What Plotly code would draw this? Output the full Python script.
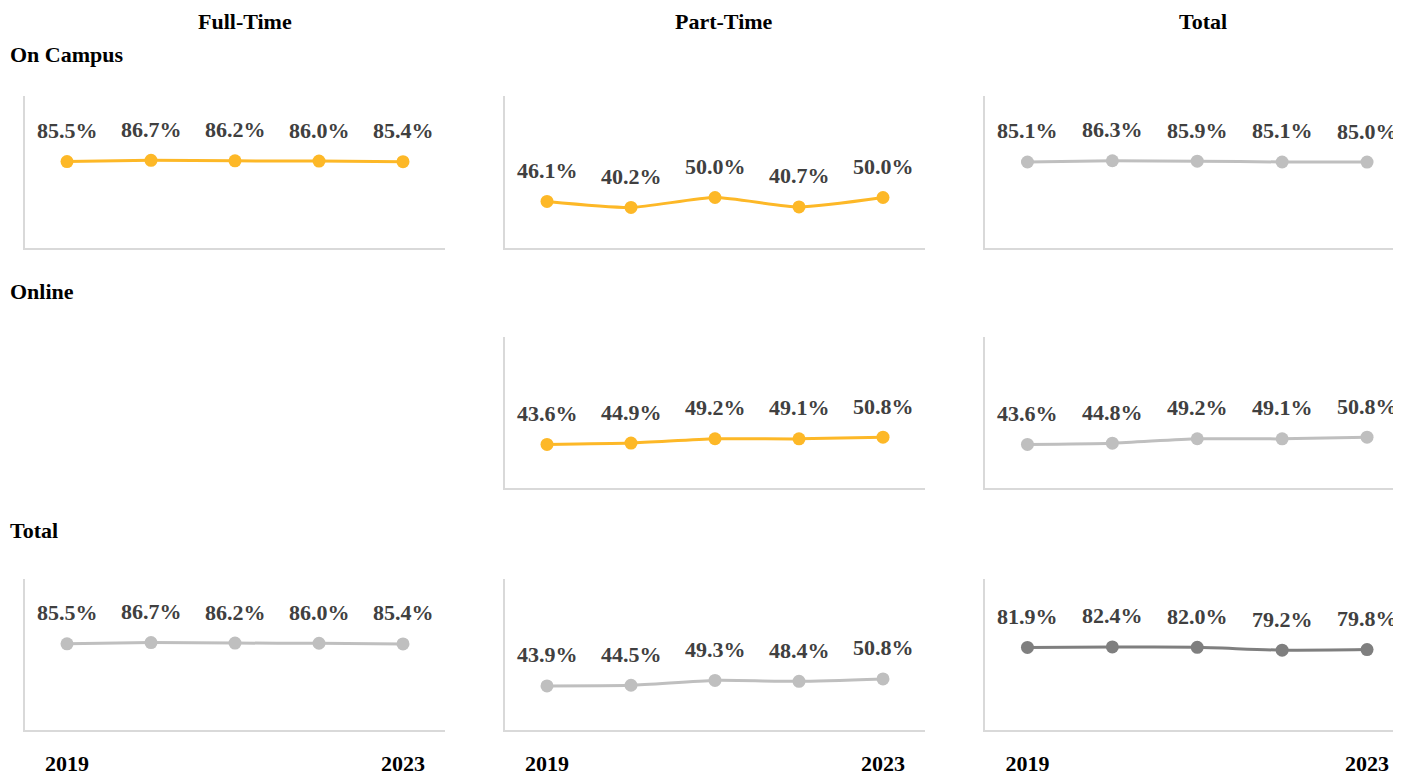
import plotly.graph_objects as go

years = ["2019", "2020", "2021", "2022", "2023"]
col_titles = ["Full-Time", "Part-Time", "Total"]
row_titles = ["On Campus", "Online", "Total"]

on_campus_full = [85.5, 86.7, 86.2, 86.0, 85.4]
on_campus_part = [46.1, 40.2, 50.0, 40.7, 50.0]
on_campus_total = [85.1, 86.3, 85.9, 85.1, 85.0]
online_full = []
online_part = [43.6, 44.9, 49.2, 49.1, 50.8]
online_total = [43.6, 44.8, 49.2, 49.1, 50.8]
total_full = [85.5, 86.7, 86.2, 86.0, 85.4]
total_part = [43.9, 44.5, 49.3, 48.4, 50.8]
total_total = [81.9, 82.4, 82.0, 79.2, 79.8]

YELLOW = "#FDB827"
LIGHT = "#BFBFBF"
DARK = "#7F7F7F"

grid = [
    [(on_campus_full, YELLOW), (on_campus_part, YELLOW), (on_campus_total, LIGHT)],
    [(online_full, YELLOW), (online_part, YELLOW), (online_total, LIGHT)],
    [(total_full, LIGHT), (total_part, LIGHT), (total_total, DARK)],
]

# page body adds an 8px margin; figure is sized to fit the window
OFF = 8
OFF_Y = 6
W, H = 1401 - OFF, 776 - OFF
col_px = [(25, 445), (505, 925), (985, 1401)]
row_px = [(95, 248), (338, 490), (581, 734)]

LABEL_FONT = dict(family="Liberation Serif", size=22, color="#404040", weight="bold")
TITLE_FONT = dict(family="Liberation Serif", size=22, color="#000000", weight="bold")


def px_x(v):
    return (v - OFF) / W


def px_y(v):
    return 1 - (v - OFF_Y) / H


fig = go.Figure()
annotations = []
idx = 0
for r in range(3):
    for c in range(3):
        idx += 1
        xa = "x" if idx == 1 else f"x{idx}"
        ya = "y" if idx == 1 else f"y{idx}"
        vals, color = grid[r][c]
        xs = list(range(len(vals)))
        if vals:
            fig.add_trace(go.Scatter(
                x=xs, y=vals, xaxis=xa, yaxis=ya, mode="lines+markers",
                line=dict(color=color, width=3, shape="spline", smoothing=0.6),
                marker=dict(color=color, size=13),
                hoverinfo="skip", showlegend=False,
            ))
            for xi, v in zip(xs, vals):
                annotations.append(dict(
                    x=xi, y=v, xref=xa, yref=ya, text=f"{v:.1f}%",
                    showarrow=False, yshift=31, font=LABEL_FONT,
                    xanchor="center", yanchor="middle",
                ))
        x0, x1 = col_px[c]
        y0, y1 = row_px[r]
        xr = [-0.5, 4.5] if c < 2 else [-0.5, 4.4]
        xkey = "xaxis" if idx == 1 else f"xaxis{idx}"
        ykey = "yaxis" if idx == 1 else f"yaxis{idx}"
        fig.update_layout(**{
            xkey: dict(
                domain=[px_x(x0), min(1.0, px_x(x1))], anchor=ya, range=xr,
                showgrid=False, zeroline=False, showline=True,
                linecolor="#D9D9D9", linewidth=2,
                tickmode="array", tickvals=[0, 4] if r == 2 else [],
                ticktext=[years[0], years[-1]] if r == 2 else [],
                showticklabels=(r == 2), ticks="",
                ticklabelstandoff=12,
                tickfont=dict(family="Liberation Serif", size=22, color="#000000", weight="bold"),
                fixedrange=True,
            ),
            ykey: dict(
                domain=[px_y(y1), px_y(y0)], anchor=xa, range=[0, 150],
                showgrid=False, zeroline=False, showline=True,
                linecolor="#D9D9D9", linewidth=2,
                showticklabels=False, ticks="", fixedrange=True,
            ),
        })

for c, t in enumerate(col_titles):
    cx = [245, 724, 1203][c]
    annotations.append(dict(x=px_x(cx), y=px_y(20), xref="paper", yref="paper",
                            text=t, showarrow=False, font=TITLE_FONT,
                            xanchor="center", yanchor="middle"))
for r, t in enumerate(row_titles):
    ty = [53, 292, 533][r]
    annotations.append(dict(x=0, y=px_y(ty), xref="paper", yref="paper",
                            text=t, showarrow=False, font=TITLE_FONT,
                            xanchor="left", yanchor="middle"))

fig.update_layout(
    width=W, height=H,
    margin=dict(l=0, r=0, t=0, b=0),
    paper_bgcolor="white", plot_bgcolor="white",
    annotations=annotations,
    showlegend=False,
)

fig.write_html("out.html", config={"displayModeBar": False})
